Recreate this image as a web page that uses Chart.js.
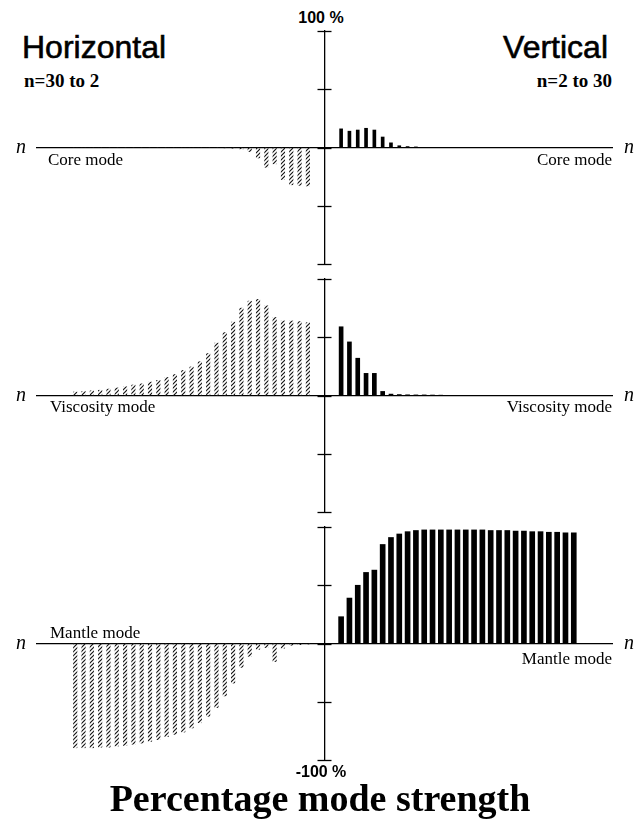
<!DOCTYPE html>
<html>
<head>
<meta charset="utf-8">
<script src="https://cdn.jsdelivr.net/npm/chart.js@4.4.1/dist/chart.umd.min.js"></script>
<style>
  html, body { margin: 0; padding: 0; background: #fff; }
  #page { position: relative; width: 640px; height: 822px; background: #fff; overflow: hidden; }
  canvas.panel { position: absolute; left: 0; }
  .t { position: absolute; white-space: nowrap; color: #000; line-height: 1; }
  .sans { font-family: "Liberation Sans", Arial, sans-serif; }
  .serif { font-family: "Liberation Serif", "Times New Roman", serif; }
  .mid { transform: translateX(-50%); }
  .head { font-size: 32px; -webkit-text-stroke: 0.6px #000; }
  .nlab { font-family: "Liberation Serif", serif; font-style: italic; font-size: 20px; }
</style>
</head>
<body>
<div id="page">
  <div class="t sans mid" style="left:321px; top:10px; font-size:16px; font-weight:bold;">100 %</div>
  <div class="t sans head" style="left:22px; top:31px;">Horizontal</div>
  <div class="t sans head" style="right:32px; top:31px;">Vertical</div>
  <div class="t serif" style="left:24px; top:71px; font-size:19px; font-weight:bold;">n=30 to 2</div>
  <div class="t serif" style="right:28px; top:71px; font-size:19px; font-weight:bold;">n=2 to 30</div>

  <canvas id="corePanel" class="panel" width="640" height="253" style="top:21px;"></canvas>
  <canvas id="viscosityPanel" class="panel" width="640" height="253" style="top:269px;"></canvas>
  <canvas id="mantlePanel" class="panel" width="640" height="253" style="top:517px;"></canvas>

  <div class="t nlab" style="left:16px; top:136px;">n</div>
  <div class="t nlab" style="left:624px; top:136px;">n</div>
  <div class="t serif" style="left:48px; top:151px; font-size:17px;">Core mode</div>
  <div class="t serif" style="right:28px; top:151px; font-size:17px;">Core mode</div>

  <div class="t nlab" style="left:16px; top:384px;">n</div>
  <div class="t nlab" style="left:624px; top:384px;">n</div>
  <div class="t serif" style="left:50px; top:398px; font-size:17px;">Viscosity mode</div>
  <div class="t serif" style="right:28px; top:398px; font-size:17px;">Viscosity mode</div>

  <div class="t nlab" style="left:16px; top:632px;">n</div>
  <div class="t nlab" style="left:624px; top:632px;">n</div>
  <div class="t serif" style="left:50px; top:624px; font-size:17px;">Mantle mode</div>
  <div class="t serif" style="right:28px; top:650px; font-size:17px;">Mantle mode</div>

  <div class="t sans mid" style="left:321px; top:764px; font-size:16px; font-weight:bold;">-100 %</div>
  <div class="t serif mid" style="left:320px; top:779px; font-size:38px; font-weight:bold;">Percentage mode strength</div>
</div>

<script>
// Spherical-harmonic degree n of each mode component
const degrees = [2, 3, 4, 5, 6, 7, 8, 9, 10, 11, 12, 13, 14, 15, 16, 17, 18, 19, 20, 21, 22, 23, 24, 25, 26, 27, 28, 29, 30];

// Percentage mode strength for n = 2 ... 30
// Horizontal component (plotted on the left, n decreasing towards the axis)
const coreHorizontal = [-33, -32.5, -32, -27.5, -14, -17, -9, -3.5, -1.2, -0.6, -0.3, 0, 0, 0, 0, 0, 0, 0, 0, 0, 0, 0, 0, 0, 0, 0, 0, 0, 0];
const viscosityHorizontal = [62.5, 63.5, 64, 64, 67, 77, 82.5, 81, 75, 63, 54, 45, 36, 29, 24.5, 21.5, 18, 15.5, 13, 11.5, 10, 9, 7.5, 6.5, 5.5, 4.5, 4, 3.5, 3];
const mantleHorizontal = [-0.5, -1, -1.5, -4, -15.5, -3.5, -5, -11, -20.5, -34, -45, -55, -62.5, -68, -72.5, -76, -78, -80, -82.5, -84, -85.5, -86.5, -87.5, -88, -89, -89, -89.5, -89.5, -89.5];

// Vertical component (plotted on the right)
const coreVertical = [16, 14, 15, 16.5, 15, 9, 4, 1.5, 0.8, 0.5, 0, 0, 0, 0, 0, 0, 0, 0, 0, 0, 0, 0, 0, 0, 0, 0, 0, 0, 0];
const viscosityVertical = [59, 46, 32, 19, 19, 3.5, 1.2, 0.8, 0.6, 0.5, 0.5, 0.4, 0.3, 0, 0, 0, 0, 0, 0, 0, 0, 0, 0, 0, 0, 0, 0, 0, 0];
const mantleVertical = [23, 39, 50, 61, 63, 85, 91, 94, 96, 97, 97.5, 97.5, 97.5, 97.5, 97.5, 97.5, 97.5, 97.5, 97, 97, 97, 96.5, 96.5, 96, 96, 95.5, 95.5, 95, 95];

const yTickValues = [-100, -50, 0, 50, 100];

// Fine diagonal hatching for the horizontal-component bars
function makeHatch() {
  const c = document.createElement('canvas');
  c.width = 4; c.height = 4;
  const g = c.getContext('2d');
  g.strokeStyle = '#151515';
  g.lineWidth = 1.2;
  g.beginPath();
  g.moveTo(0, 4); g.lineTo(4, 0);
  g.moveTo(-1, 1); g.lineTo(1, -1);
  g.moveTo(3, 5); g.lineTo(5, 3);
  g.stroke();
  return g.createPattern(c, 'repeat');
}
const hatch = makeHatch();

// Short crossing marks on the central axis at every y tick
const crossTicks = {
  id: 'crossTicks',
  afterDraw(chart) {
    const xs = chart.scales.x, ys = chart.scales.y;
    const cx = xs.getPixelForValue(0);
    const ctx = chart.ctx;
    ctx.save();
    ctx.strokeStyle = '#000';
    ctx.lineWidth = 1.3;
    ys.ticks.forEach(t => {
      const py = Math.round(ys.getPixelForValue(t.value)) + 0.5;
      ctx.beginPath();
      ctx.moveTo(cx - 7, py);
      ctx.lineTo(cx + 7, py);
      ctx.stroke();
    });
    ctx.restore();
  }
};

function makePanel(id, leftVals, rightVals, rightThickness) {
  new Chart(document.getElementById(id), {
    type: 'bar',
    data: {
      datasets: [
        {
          label: 'Horizontal',
          data: degrees.map((n, i) => ({ x: -n, y: leftVals[i] })),
          backgroundColor: hatch,
          barThickness: 3.5,
          borderWidth: 0
        },
        {
          label: 'Vertical',
          data: degrees.map((n, i) => ({ x: n, y: rightVals[i] })),
          backgroundColor: '#000',
          barThickness: rightThickness,
          borderWidth: 0
        }
      ]
    },
    options: {
      responsive: false,
      animation: false,
      grouped: false,
      layout: { padding: { left: 37, right: 28, top: 10, bottom: 10 } },
      plugins: { legend: { display: false }, tooltip: { enabled: false }, title: { display: false } },
      scales: {
        x: {
          type: 'linear',
          min: -34.6,
          max: 34.6,
          offset: false,
          position: { y: 0 },
          grid: { display: false },
          ticks: { display: false },
          border: { display: true, color: '#000', width: 1.3 }
        },
        y: {
          type: 'linear',
          min: -100,
          max: 100,
          position: { x: 0 },
          afterBuildTicks: scale => { scale.ticks = yTickValues.map(v => ({ value: v })); },
          grid: { display: false },
          ticks: { display: false },
          border: { display: true, color: '#000', width: 1.3 }
        }
      }
    },
    plugins: [crossTicks]
  });
}

makePanel('corePanel', coreHorizontal, coreVertical, 3);
makePanel('viscosityPanel', viscosityHorizontal, viscosityVertical, 4);
makePanel('mantlePanel', mantleHorizontal, mantleVertical, 5);
</script>
</body>
</html>
